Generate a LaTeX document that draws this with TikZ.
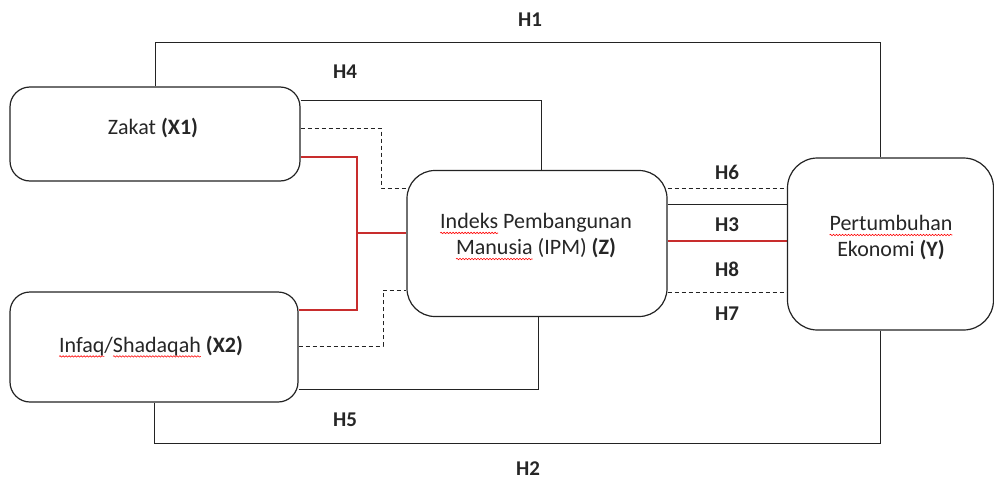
\documentclass[tikz,border=0pt]{standalone}
\usepackage{fontspec}
\setmainfont{Carlito}
\usetikzlibrary{backgrounds,decorations.pathmorphing}
\definecolor{lred}{RGB}{200,45,45}
\definecolor{lgray}{RGB}{35,35,35}
\newsavebox{\spellbox}
\newcommand\spellerr[1]{\sbox{\spellbox}{#1}\usebox{\spellbox}\tikz[overlay]\draw[red, line width=0.6pt, decorate, decoration={snake,amplitude=0.7pt,segment length=3pt}] (-\wd\spellbox,-4pt) -- (0pt,-4pt);}
\tikzset{
  box/.style={draw=lgray, line width=1.2pt, fill=white, rounded corners=#1, inner sep=0pt},
  txt/.style={font=\fontsize{22}{26}\selectfont, text=black!85, align=center, inner sep=0pt},
  hlab/.style={font=\fontsize{21}{25}\selectfont\bfseries, text=black!85, inner sep=0pt},
  conn/.style={draw=lgray, line width=1pt},
  dconn/.style={draw=lgray, line width=1pt, dash pattern=on 4pt off 3pt},
  rconn/.style={draw=lred, line width=1.1pt}
}
\begin{document}
\begin{tikzpicture}[x=1pt,y=-1pt]
\useasboundingbox (0,0) rectangle (994,482);
% boxes
\node[box=20pt, minimum width=290pt, minimum height=94pt] (zakat) at (155,134) {};
\node[box=20pt, minimum width=288pt, minimum height=110pt] (infaq) at (154,347) {};
\node[box=28pt, minimum width=260pt, minimum height=146pt] (ipm) at (537,243.5) {};
\node[box=30pt, minimum width=206pt, minimum height=172pt] (pert) at (890.5,244) {};
% texts
\node[txt] (tzakat) at (153,128) {Zakat \textbf{(X1)}};
\node[txt] (tinfaq) at (151,346) {\spellerr{Infaq}/\spellerr{Shadaqah} \textbf{(X2)}};
\node[txt] (tipm) at (536,236) {\spellerr{Indeks} Pembangunan\\\spellerr{Manusia} (IPM) \textbf{(Z)}};
\node[txt] (tpert) at (891,238) {\spellerr{Pertumbuhan}\\Ekonomi \textbf{(Y)}};
% labels
\node[hlab] (lh1) at (530,20) {H1};
\node[hlab] (lh4) at (345,72) {H4};
\node[hlab] (lh6) at (727,172) {H6};
\node[hlab] (lh3) at (727,225) {H3};
\node[hlab] (lh8) at (727,269) {H8};
\node[hlab] (lh7) at (727,314) {H7};
\node[hlab] (lh5) at (345,420) {H5};
\node[hlab] (lh2) at (528,469) {H2};
% bend points
\coordinate (h1r) at (880,42);
\coordinate (h2r) at (880,443);
\coordinate (h4) at (541,100);
\coordinate (h5) at (538,389);
\coordinate (d1a) at (381,128);
\coordinate (d1b) at (381,188);
\coordinate (d2a) at (383,346);
\coordinate (d2b) at (383,290);
\coordinate (r1) at (357,157);
\coordinate (r2) at (357,310);
\coordinate (r3) at (357,233);
\coordinate (y6) at (700,188);
\coordinate (y3) at (700,204);
\coordinate (y8) at (700,241);
\coordinate (y7) at (700,292);
\begin{scope}[on background layer]
\draw[conn] (zakat.north) |- (h1r) -- (h1r |- pert.north);
\draw[conn] (infaq.south) |- (h2r) -- (h2r |- pert.south);
\draw[conn] (h4 -| zakat.east) -- (h4) -- (h4 |- ipm.north);
\draw[conn] (h5 -| infaq.east) -- (h5) -- (h5 |- ipm.south);
\draw[dconn] (d1a -| zakat.east) -- (d1a) -- (d1b) -- (d1b -| ipm.west);
\draw[dconn] (d2a -| infaq.east) -- (d2a) -- (d2b) -- (d2b -| ipm.west);
\draw[rconn] (r1 -| zakat.east) -- (r1) -- (r2) -- (r2 -| infaq.east);
\draw[rconn] (r3) -- (r3 -| ipm.west);
\draw[dconn] (y6 -| ipm.east) -- (y6 -| pert.west);
\draw[conn] (y3 -| ipm.east) -- (y3 -| pert.west);
\draw[rconn] (y8 -| ipm.east) -- (y8 -| pert.west);
\draw[dconn] (y7 -| ipm.east) -- (y7 -| pert.west);
\end{scope}
\end{tikzpicture}
\end{document}
